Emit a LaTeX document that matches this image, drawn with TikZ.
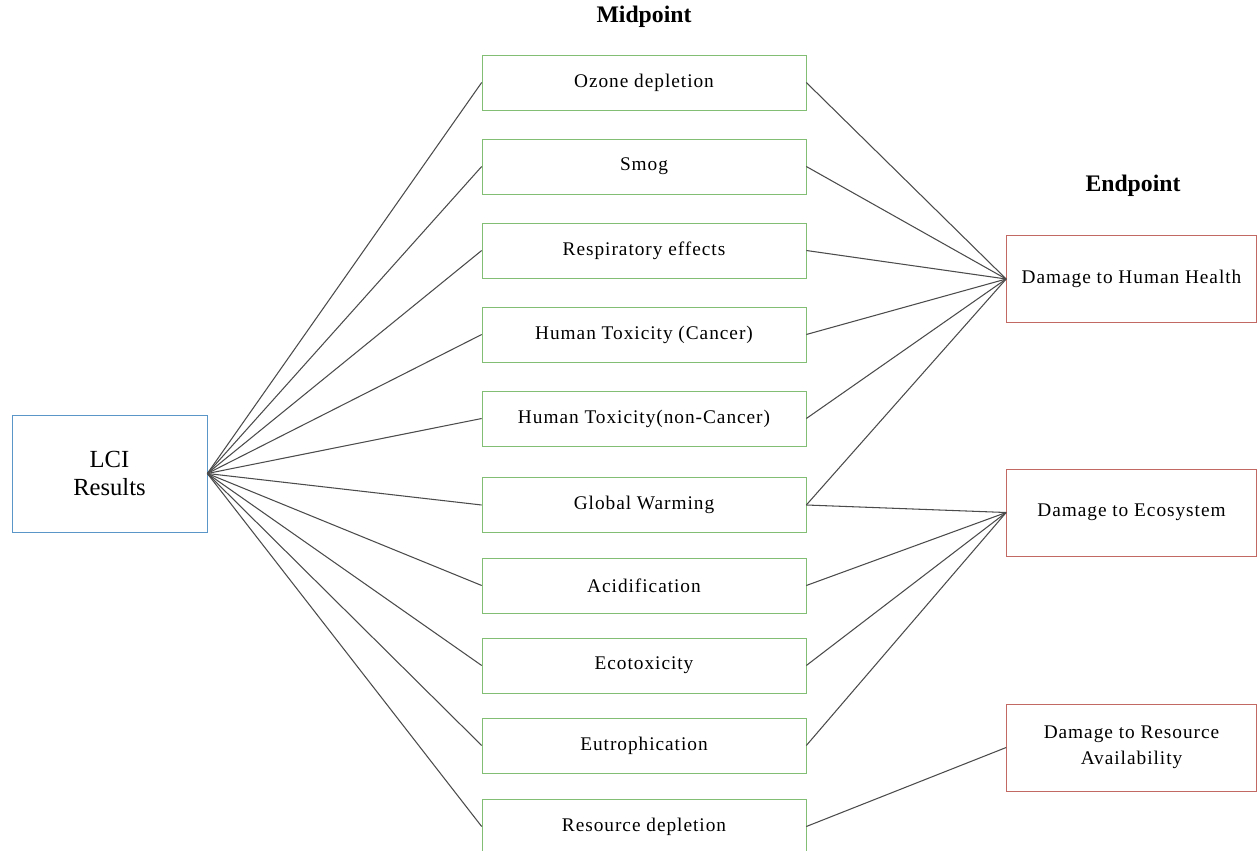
\documentclass[tikz,border=0pt]{standalone}
\usepackage{fontspec}
\setmainfont{Liberation Serif}
\newfontfamily\boxfont[LetterSpace=5]{Liberation Serif}
\usepackage{tikz}

\definecolor{lciblue}{RGB}{90,150,200}
\definecolor{midgreen}{RGB}{130,190,115}
\definecolor{endred}{RGB}{195,105,100}
\definecolor{linkgray}{RGB}{75,75,75}

\begin{document}
\begin{tikzpicture}[x=0.02cm, y=-0.02cm,
        lci/.style={draw=lciblue, rectangle, minimum width=3.9cm, minimum height=2.34cm, align=center, font=\fontsize{14}{16}\selectfont},
        mid/.style={draw=midgreen, rectangle, minimum width=6.48cm, minimum height=1.1cm, font=\boxfont\fontsize{11}{13}\selectfont},
        endp/.style={draw=endred, rectangle, minimum width=5cm, minimum height=1.74cm, align=center, font=\boxfont\fontsize{11}{15}\selectfont},
        head/.style={font=\bfseries\fontsize{13.5}{15}\selectfont},
        link/.style={draw=linkgray, line width=0.6pt}]
        \useasboundingbox (0,0) rectangle (1257,851);

        % Define the nodes
        \node[lci] (lci) at (109.5,473.5) {LCI\\Results};

        \node[head] (midhead) at (644,17) {Midpoint};
        \node[mid] (ozone) at (644,82.5)  {Ozone depletion};
        \node[mid] (smog)  at (644,166.5) {Smog};
        \node[mid] (resp)  at (644,250.5) {Respiratory effects};
        \node[mid] (canc)  at (644,334.5) {Human Toxicity (Cancer)};
        \node[mid] (ncanc) at (644,418.5) {Human Toxicity(non-Cancer)};
        \node[mid] (gw)    at (644,505)   {Global Warming};
        \node[mid] (acid)  at (644,585.5) {Acidification};
        \node[mid] (ecot)  at (644,665.5) {Ecotoxicity};
        \node[mid] (eutr)  at (644,745.5) {Eutrophication};
        \node[mid] (resd)  at (644,826.5) {Resource depletion};

        \node[head] (endhead) at (1133,186) {Endpoint};
        \node[endp] (health) at (1131.5,279)   {Damage to Human Health};
        \node[endp] (eco)    at (1131.5,512.5) {Damage to Ecosystem};
        \node[endp] (avail)  at (1131.5,747.5) {Damage to Resource\\Availability};

        % Define the links
        \foreach \m in {ozone,smog,resp,canc,ncanc,gw,acid,ecot,eutr,resd}
            \path[link] (lci.east) -- (\m.west);
        \foreach \m in {ozone,smog,resp,canc,ncanc,gw}
            \path[link] (\m.east) -- (health.west);
        \foreach \m in {gw,acid,ecot,eutr}
            \path[link] (\m.east) -- (eco.west);
        \path[link] (resd.east) -- (avail.west);
    \end{tikzpicture}
\end{document}
